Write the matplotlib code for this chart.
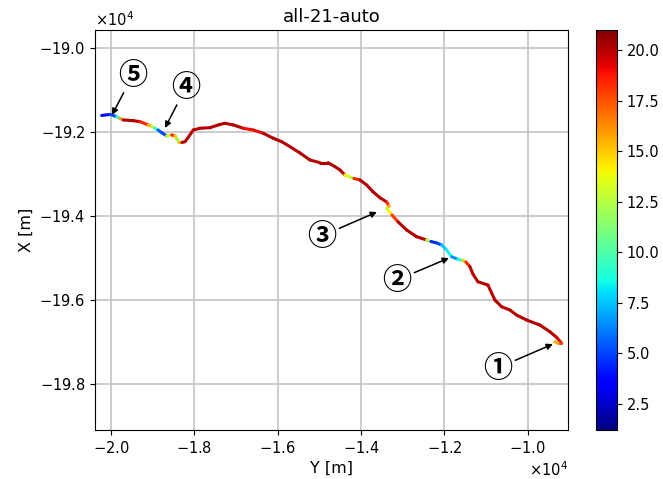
import numpy as np
import matplotlib
matplotlib.use("Agg")
from matplotlib import pyplot as plt
from matplotlib.collections import LineCollection
from matplotlib.colors import Normalize

# trajectory (Y = horizontal, X = vertical) and the value shown by colour
track_y = [-20223, -20024, -19863, -19784, -19705, -19465, -19304, -19105, -19016, -18944,
           -18872, -18783, -18663, -18543, -18464, -18416, -18361, -18296, -18224, -18145,
           -18025, -17864, -17624, -17425, -17264, -17065, -16825, -16585, -16345, -16105,
           -15903, -15704, -15464, -15224, -14984, -14792, -14624, -14504, -14384, -14264,
           -14168, -14024, -13863, -13712, -13544, -13383, -13328, -13376, -13328, -13256,
           -13112, -12903, -12663, -12423, -12320, -12176, -12063, -11943, -11823, -11672,
           -11552, -11480, -11384, -11312, -11192, -10952, -10863, -10784, -10623, -10424,
           -10263, -10023, -9704, -9464, -9303, -9183, -9272, -9344]
track_x = [-191614, -191590, -191643, -191686, -191721, -191738, -191762, -191840, -191876, -191919,
           -191960, -192024, -192102, -192079, -192102, -192174, -192262, -192257, -192238, -192133,
           -191960, -191919, -191905, -191840, -191800, -191840, -191919, -191960, -192038, -192157,
           -192238, -192357, -192507, -192674, -192738, -192738, -192833, -192912, -193031, -193079,
           -193114, -193150, -193269, -193429, -193572, -193674, -193769, -193829, -193888, -193983,
           -194143, -194341, -194500, -194579, -194614, -194650, -194698, -194817, -194976, -195038,
           -195067, -195103, -195214, -195388, -195572, -195650, -195841, -196007, -196167, -196245,
           -196365, -196483, -196603, -196762, -196895, -197038, -197031, -197000]
value = [3, 4, 6, 12, 20, 20, 20, 17, 14, 11,
         7, 4, 6, 20, 17, 13, 11, 20, 20, 20,
         20, 20, 20, 20, 20, 20, 20, 18, 20, 20,
         20, 20, 20, 20, 20, 20, 20, 20, 20, 8,
         17, 20, 20, 20, 20, 20, 17, 14, 12, 16,
         20, 20, 20, 20, 5, 4, 6, 9, 8, 5,
         13, 17, 20, 20, 20, 20, 20, 20, 20, 20,
         20, 20, 20, 20, 20, 19, 17, 14]

labels = ["①", "②", "③", "④", "⑤"]

fig = plt.figure(figsize=(6.63, 4.79), dpi=100)
ax = fig.add_axes([0.1433, 0.1023, 0.7134, 0.8351])
cax = fig.add_axes([0.899, 0.1023, 0.0317, 0.8351])

pts = np.column_stack([track_y, track_x])
segs = np.stack([pts[:-1], pts[1:]], axis=1)
vals = np.array(value, dtype=float)
norm = Normalize(vmin=1.2, vmax=21.0)
lc = LineCollection(segs, cmap="jet", norm=norm, linewidth=2.2, capstyle="round")
lc.set_array((vals[:-1] + vals[1:]) / 2)
ax.add_collection(lc)

ax.set_xlim(-20384, -9030)
ax.set_ylim(-199100, -189580)
ax.grid(True, color="#c4c4c4", linewidth=1.2)
ax.set_axisbelow(True)
ax.ticklabel_format(axis="both", style="sci", scilimits=(4, 4), useMathText=True, useOffset=False)
ax.tick_params(labelsize=10.5)
ax.xaxis.get_offset_text().set_fontsize(10.5)
ax.yaxis.get_offset_text().set_fontsize(10.5)
ax.set_xlabel("Y [m]", fontsize=11.5)
ax.set_ylabel("X [m]", fontsize=11.5)
ax.set_title("all-21-auto", fontsize=13)

# circled markers with arrows: (label, text pos, arrow tip)
notes = [
    (labels[4], (-19472, -190650), (-19976, -191602)),
    (labels[3], (-18200, -190940), (-18704, -191912)),
    (labels[2], (-14936, -194480), (-13616, -193912)),
    (labels[1], (-13136, -195530), (-11888, -195007)),
    (labels[0], (-10712, -197620), (-9392, -197055)),
]
for lab, txt, tip in notes:
    ax.annotate(lab, xy=tip, xytext=txt, ha="center", va="center",
                fontsize=21, fontweight="bold", family=["Noto Sans CJK JP", "DejaVu Sans"],
                arrowprops=dict(arrowstyle="-|>", color="black", lw=1.1,
                                mutation_scale=9, shrinkA=0, shrinkB=0))

sm = plt.cm.ScalarMappable(norm=norm, cmap="jet")
cb = fig.colorbar(sm, cax=cax)
cb.set_ticks([2.5, 5.0, 7.5, 10.0, 12.5, 15.0, 17.5, 20.0])
cb.ax.tick_params(labelsize=10.5)

fig.savefig("out.png", dpi=100)
